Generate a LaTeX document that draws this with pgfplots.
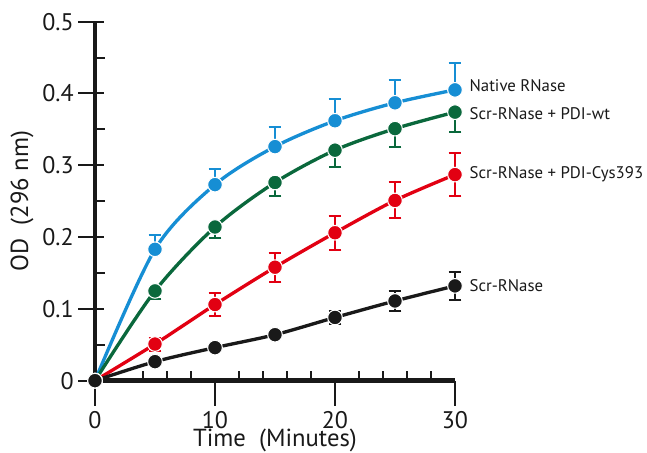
\documentclass[border=0pt]{standalone}
\usepackage{fontspec}
\setmainfont{PT Sans}
\usepackage{pgfplots}
\pgfplotsset{compat=1.18}
\definecolor{cblue}{RGB}{22,142,212}
\definecolor{cgreen}{RGB}{10,104,60}
\definecolor{cred}{RGB}{226,0,18}
\definecolor{cblack}{RGB}{25,25,25}
\begin{document}
\begin{tikzpicture}
\useasboundingbox (-71.25pt,-54pt) rectangle (414pt,285.5pt);
\begin{axis}[
  at={(0,0)}, anchor=south west,
  width=270pt, height=269.25pt, scale only axis,
  xmin=0, xmax=30, ymin=0, ymax=0.5,
  clip=false,
  axis x line=bottom, axis y line=left,
  axis line style={-, line width=3.6pt, color=cblack},
  xtick={0,10,20,30},
  minor xtick={4,6,8,12,14,16,18,22,24,26,28},
  ytick={0,0.1,0.2,0.3,0.4,0.5},
  yticklabels={0,0.1,0.2,0.3,0.4,0.5},
  minor ytick={0.05,0.15,0.25,0.35,0.45},
  tick align=center,
  major tick length=19pt, minor tick length=7.5pt,
  every tick/.style={line width=1.5pt, cblack},
  every major x tick/.append style={yshift=-9.5pt},
  every major y tick/.append style={xshift=-3pt},
  every minor x tick/.append style={yshift=3.75pt},
  every minor y tick/.append style={xshift=3.75pt},
  /pgf/number format/assume math mode=true,
  tick label style={font=\fontsize{18}{21}\selectfont, text=cblack},
  xticklabel style={inner sep=0pt, yshift=-13.5pt},
  yticklabel style={xshift=-3pt},
  xlabel={Time\ \ (Minutes)},
  ylabel={OD\ \ (296 nm)},
  every axis x label/.style={at={(axis description cs:0.5,0)}, anchor=base, inner sep=0pt, yshift=-49.5pt, font=\fontsize{18.5}{22}\selectfont, text=cblack},
  every axis y label/.style={at={(axis description cs:0,0.5)}, anchor=center, xshift=-54.75pt, rotate=90, font=\fontsize{18.5}{22}\selectfont, text=cblack},
  error bars/error bar style={line width=1.5pt},
  error bars/error mark options={rotate=90, mark size=4.8pt, line width=1.5pt},
]
% Native RNase
\addplot[color=cblue, line width=2.5pt, smooth, mark=*, mark size=5.5pt,
  mark options={fill=cblue, draw=white, line width=0.8pt},
  error bars/.cd, y dir=plus, y explicit]
  table[x=x, y=y, y error=e] {
x y e
0 0 0
5 0.183 0.020
10 0.273 0.022
15 0.326 0.027
20 0.362 0.030
25 0.387 0.032
30 0.405 0.038
};
% Scr-RNase + PDI-wt
\addplot[color=cgreen, line width=2.5pt, smooth, mark=*, mark size=5.5pt,
  mark options={fill=cgreen, draw=white, line width=0.8pt},
  error bars/.cd, y dir=minus, y explicit]
  table[x=x, y=y, y error=e] {
x y e
0 0 0
5 0.125 0.011
10 0.214 0.015
15 0.276 0.019
20 0.321 0.023
25 0.351 0.026
30 0.374 0.028
};
% Scr-RNase + PDI-Cys393
\addplot[color=cred, line width=2.5pt, smooth, mark=*, mark size=5.5pt,
  mark options={fill=cred, draw=white, line width=0.8pt},
  error bars/.cd, y dir=both, y explicit]
  table[x=x, y=y, y error=e] {
x y e
0 0 0
5 0.051 0.009
10 0.106 0.016
15 0.158 0.020
20 0.206 0.024
25 0.251 0.025
30 0.287 0.030
};
% Scr-RNase
\addplot[color=cblack, line width=2.5pt, smooth, mark=*, mark size=5.5pt,
  mark options={fill=cblack, draw=white, line width=0.8pt},
  error bars/.cd, y dir=both, y explicit]
  table[x=x, y=y, y error=e] {
x y e
0 0 0
5 0.0265 0.004
10 0.046 0.004
15 0.064 0.004
20 0.088 0.009
25 0.111 0.014
30 0.132 0.019
};
\node[anchor=west, inner sep=0pt, font=\fontsize{12.6}{15}\selectfont, text=cblack] at (axis cs:31.2,0.411) {Native RNase};
\node[anchor=west, inner sep=0pt, font=\fontsize{12.6}{15}\selectfont, text=cblack] at (axis cs:31.2,0.372) {Scr-RNase + PDI-wt};
\node[anchor=west, inner sep=0pt, font=\fontsize{12.6}{15}\selectfont, text=cblack] at (axis cs:31.2,0.288) {Scr-RNase + PDI-Cys393};
\node[anchor=west, inner sep=0pt, font=\fontsize{12.6}{15}\selectfont, text=cblack] at (axis cs:31.2,0.132) {Scr-RNase};
\end{axis}
\end{tikzpicture}
\end{document}
